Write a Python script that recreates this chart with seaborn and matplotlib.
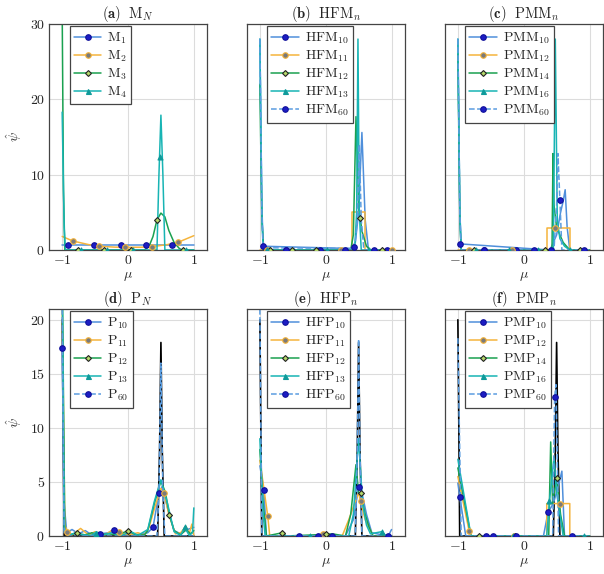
import seaborn as sns
import matplotlib.pyplot as plt
import matplotlib
from matplotlib.lines import Line2D

# ---- (a) M_N ----
a_M1_mu = [-1.0, 1.0]
a_M1_psi = [0.72, 0.72]
a_M1_mk_mu = [-0.91, -0.51, -0.11, 0.28, 0.67]
a_M1_mk_psi = [0.72, 0.72, 0.72, 0.72, 0.72]
a_M2_mu = [-1.0, -0.84, -0.6, -0.44, -0.2, 0.0, 0.2, 0.36, 0.6, 0.76, 1.0]
a_M2_psi = [1.8, 1.2, 0.72, 0.5, 0.38, 0.36, 0.37, 0.44, 0.72, 1.02, 1.9]
a_M2_mk_mu = [-0.84, -0.44, -0.04, 0.36, 0.76]
a_M2_mk_psi = [1.2, 0.5, 0.36, 0.44, 1.02]
a_M3_mu = [-1.0, -0.98, -0.96, 0.25, 0.32, 0.38, 0.44, 0.5, 0.56, 0.62, 0.7, 0.78, 0.82, 1.0]
a_M3_psi = [32, 8, 0, 0, 0.5, 1.8, 4.0, 4.9, 4.4, 2.6, 1.0, 0.2, 0, 0]
a_M3_mk_mu = [-0.76, -0.36, 0.04, 0.44, 0.84]
a_M3_mk_psi = [0, 0, 0, 4.0, 0]
a_M4_mu = [-1.0, -0.97, -0.95, 0.44, 0.47, 0.5, 0.53, 0.56, 1.0]
a_M4_psi = [18.3, 3, 0, 0, 10, 17.9, 10, 0, 0]
a_M4_mk_mu = [-0.72, -0.32, 0.08, 0.48, 0.88]
a_M4_mk_psi = [0, 0, 0, 12.4, 0]

# ---- (b) HFM_n ----
b_10_mu = [-1.0, -0.97, -0.95, 0.38, 0.45, 0.5, 0.55, 0.6, 0.65, 1.0]
b_10_psi = [28, 6, 0.5, 0.2, 1.0, 5.0, 15.6, 4.0, 0, 0]
b_10_mk_mu = [-0.95, -0.60, -0.09, 0.43, 0.93]
b_10_mk_psi = [0.5, 0, 0, 0.45, 0]
b_11_mu = [-1.0, 0.4, 0.4, 0.6, 0.6, 1.0]
b_11_psi = [0, 0, 5.05, 5.05, 0, 0]
b_11_mk_mu = [-0.89, 0.23, 1.0]
b_11_mk_psi = [0, 0, 0]
b_12_mu = [-1.0, -0.97, -0.94, 0.38, 0.42, 0.46, 0.5, 0.55, 0.62, 0.68, 1.0]
b_12_psi = [22, 4, 0, 0, 2, 17.7, 6, 2.5, 0.5, 0, 0]
b_12_mk_mu = [-0.85, -0.51, -0.15, 0.52, 0.86]
b_12_mk_psi = [0, 0, 0, 4.2, 0]
b_13_mu = [-1.0, -0.97, -0.95, 0.44, 0.47, 0.49, 0.51, 0.54, 1.0]
b_13_psi = [28, 5, 0, 0, 5, 28, 5, 0, 0]
b_13_mk_mu = [-0.89, 0.02, 0.66]
b_13_mk_psi = [0, 0, 0]
b_60_mu = [-1.0, -0.97, -0.95, 0.44, 0.48, 0.51, 0.54, 0.58, 1.0]
b_60_psi = [28, 5, 0.3, 0.2, 4, 14, 4, 0, 0]
b_60_mk_mu = [-0.60, 0.30, 0.73]
b_60_mk_psi = [0, 0, 0]

# ---- (c) PMM_n ----
c_10_mu = [-1.0, -0.97, -0.95, 0.4, 0.5, 0.56, 0.6, 0.63, 0.66, 0.7, 1.0]
c_10_psi = [28, 5, 0.8, 0, 2, 5, 6.5, 8, 3, 0, 0]
c_10_mk_mu = [-0.97, -0.60, -0.12, 0.41]
c_10_mk_psi = [0.8, 0, 0, 0]
c_12_mu = [-1.0, 0.35, 0.35, 0.7, 0.7, 1.0]
c_12_psi = [0, 0, 2.96, 2.96, 0, 0]
c_12_mk_mu = [-0.83, -0.18, 0.47]
c_12_mk_psi = [0, 0, 2.96]
c_14_mu = [-1.0, -0.97, -0.95, 0.43, 0.445, 0.46, 0.5, 0.6, 0.7, 1.0]
c_14_psi = [26, 4, 0, 0, 12.8, 6, 3, 1, 0, 0]
c_14_mk_mu = [-0.75, 0.33, 0.86]
c_14_mk_psi = [0, 0, 0]
c_16_mu = [-1.0, -0.97, -0.95, 0.45, 0.48, 0.51, 0.55, 0.62, 0.7, 1.0]
c_16_psi = [28, 5, 0, 0, 28, 4, 1.5, 0.5, 0, 0]
c_16_mk_mu = [-0.72, -0.23, 0.21, 0.70]
c_16_mk_psi = [0, 0, 0, 0]
c_60_mu = [-1.0, -0.97, -0.95, 0.46, 0.5, 0.52, 0.55, 0.58, 1.0]
c_60_psi = [28, 5, 0, 0, 6, 12.8, 6.6, 0, 0]
c_60_mk_mu = [-0.60, 0.16, 0.55, 0.92]
c_60_mk_psi = [0, 0, 6.6, 0]

# ---- exact solution (bottom row) ----
ref_mu = [-1.0, -0.97, 0.45, 0.48, 0.5, 0.52, 0.55, 1.0]
ref_psi = [20, 0, 0, 8, 17.9, 8, 0, 0]

# ---- (d) P_N ----
d_10_mu = [-1.0, -0.97, -0.93, -0.85, -0.75, -0.65, -0.55, -0.42, -0.3, -0.21, -0.1, 0.0,
           0.1, 0.2, 0.3, 0.38, 0.47, 0.52, 0.6, 0.7, 0.8, 0.9, 1.0]
d_10_psi = [17.4, 3.0, 0.3, 0.6, 0.2, 0.5, 0.1, 0.2, 0.3, 0.6, 0.2, 0.3,
            0.1, 0.2, 0.3, 0.8, 3.95, 4.6, 2.6, 0.5, 0.2, 0.6, 0.8]
d_10_mk_mu = [-1.0, -0.42, 0.47]
d_10_mk_psi = [17.4, 0.2, 3.95]
d_11_mu = [-1.0, -0.96, -0.92, -0.85, -0.72, -0.6, -0.5, -0.35, -0.25, -0.13, 0.0, 0.15,
           0.25, 0.32, 0.4, 0.5, 0.55, 0.62, 0.72, 0.8, 0.88, 0.93, 0.97, 1.0]
d_11_psi = [21.5, 1.0, 0.4, 0.1, 0.7, 0.1, 0.4, 0.1, 0.5, 0.4, 0.1, 0.3,
            0.1, 0.8, 2.5, 4.4, 3.95, 2.0, 0.2, 0.3, 0.9, 0.2, 1.1, 0.0]
d_11_mk_mu = [-0.92, -0.13, 0.55]
d_11_mk_psi = [0.4, 0.4, 3.95]
d_12_mu = [-1.0, -0.96, -0.9, -0.77, -0.65, -0.55, -0.45, -0.3, -0.15, 0.0, 0.12,
           0.25, 0.3, 0.4, 0.5, 0.57, 0.63, 0.7, 0.8, 0.88, 0.95, 1.0]
d_12_psi = [25, 0.5, 0.1, 0.26, 0.1, 0.3, 0.1, 0.2, 0.1, 0.5, 0.1,
            0.1, 0.5, 3.0, 5.1, 4.0, 1.9, 0.5, 0.1, 0.6, 0.2, 0.5]
d_12_mk_mu = [-0.77, 0.0, 0.63]
d_12_mk_psi = [0.26, 0.5, 1.9]
d_13_mu = [-1.0, -0.97, -0.9, -0.8, -0.7, -0.55, -0.48, -0.4, -0.25, -0.1, 0.05,
           0.15, 0.3, 0.4, 0.5, 0.6, 0.7, 0.8, 0.86, 0.93, 0.98, 1.0]
d_13_psi = [25, 0.5, 0.05, 0.3, 0.1, 0.05, 0.4, 0.05, 0.3, 0.05, 0.4,
            0.05, 0.6, 3.2, 5.2, 3.0, 0.4, 0.05, 0.8, 0.05, 0.3, 2.6]
d_13_mk_mu = [-0.48, 0.86]
d_13_mk_psi = [0.2, 0.8]
d_60_mu = [-1.0, -0.97, -0.9, 0.44, 0.47, 0.5, 0.53, 0.56, 1.0]
d_60_psi = [21, 0.3, 0, 0, 4, 16, 4, 0, 0]
d_60_mk_mu = [-0.21, 0.38]
d_60_mk_psi = [0.6, 0.8]

# ---- (e) HFP_n ----
e_10_mu = [-1.0, -0.94, -0.9, 0.3, 0.42, 0.5, 0.55, 0.62, 0.7, 0.95, 1.0]
e_10_psi = [6.5, 4.3, 0, 0, 1.5, 4.5, 4.0, 2.0, 0.3, 0, 0.6]
e_10_mk_mu = [-0.94, -0.41, 0.10, 0.95]
e_10_mk_psi = [4.3, 0, 0, 0]
e_11_mu = [-1.0, -0.88, -0.85, 0.25, 0.35, 0.45, 0.5, 0.53, 0.6, 0.72, 1.0]
e_11_psi = [7, 1.84, 0, 0, 1.5, 3.2, 4.0, 3.2, 1.5, 0, 0]
e_11_mk_mu = [-0.88, -0.04, 0.53]
e_11_mk_psi = [1.84, 0.15, 3.2]
e_12_mu = [-1.0, -0.95, -0.9, -0.66, -0.6, 0.0, 0.1, 0.3, 0.38, 0.46, 0.5, 0.53, 0.6, 0.66, 0.72, 1.0]
e_12_psi = [8, 3, 0, 0.3, 0, 0.15, 0.2, 0, 2, 6.6, 4, 4, 2, 0.8, 0, 0]
e_12_mk_mu = [-0.66, 0.01, 0.53]
e_12_mk_psi = [0.3, 0.15, 4.0]
e_13_mu = [-1.0, -0.95, -0.92, 0.35, 0.42, 0.5, 0.56, 0.62, 0.68, 0.85, 0.9, 1.0]
e_13_psi = [9, 2, 0, 0, 2, 9, 3, 1, 0.2, 0.4, 0.1, 0]
e_13_mk_mu = [-0.24, 0.85]
e_13_mk_psi = [0, 0.4]
e_60_mu = [-1.0, -0.97, 0.45, 0.48, 0.5, 0.52, 0.55, 1.0]
e_60_psi = [21, 0, 0, 8, 18.2, 8, 0, 0]
e_60_mk_mu = [-0.11, 0.5]
e_60_mk_psi = [0, 4.5]

# ---- (f) PMP_n ----
f_10_mu = [-1.0, -0.97, -0.88, 0.3, 0.37, 0.45, 0.52, 0.58, 0.62, 1.0]
f_10_psi = [4.9, 3.6, 0, 0, 2.2, 3, 4.5, 6, 0, 0]
f_10_mk_mu = [-0.97, -0.58, 0.37, 0.74]
f_10_mk_psi = [3.6, 0, 2.2, 0]
f_12_mu = [-1.0, -0.83, -0.8, 0.35, 0.35, 0.7, 0.7, 1.0]
f_12_psi = [5.5, 0.5, 0, 0, 3, 3, 0, 0]
f_12_mk_mu = [-0.83, -0.14, 0.55]
f_12_mk_psi = [0.5, 0, 3.0]
f_14_mu = [-1.0, -0.8, 0.38, 0.41, 0.44, 0.5, 0.56, 0.62, 1.0]
f_14_psi = [6.3, 0, 0, 8.7, 3, 5.4, 2, 0, 0]
f_14_mk_mu = [-0.68, -0.13, 0.5]
f_14_mk_psi = [0, 0, 5.4]
f_16_mu = [-1.0, -0.8, 0.35, 0.39, 0.46, 0.5, 0.55, 0.6, 1.0]
f_16_psi = [7.1, 0, 0, 3.2, 7.2, 4, 2, 0, 0]
f_16_mk_mu = [-0.16, 0.39, 0.92]
f_16_mk_psi = [0, 3.2, 0]
f_60_mu = [-1.0, -0.95, 0.44, 0.47, 0.49, 0.53, 1.0]
f_60_psi = [18.3, 0, 0, 12.9, 14, 0, 0]
f_60_mk_mu = [-0.47, -0.12, 0.47]
f_60_mk_psi = [0, 0, 12.9]

# styles: line colour, linestyle, marker, marker face, marker edge, marker size
STYLES = [
    ("#4f8fdb", "-", "o", "#1c1cc4", "#10109a", 4.0),
    ("#f5b43c", "-", "o", "#7a7a7a", "#f5b43c", 4.0),
    ("#1aa150", "-", "D", "#b5d86a", "#222222", 3.0),
    ("#18b4b4", "-", "^", "#0f9a9a", "#0f9a9a", 3.6),
    ("#5b9de0", "--", "o", "#1c1cc4", "#10109a", 4.0),
]

sns.set_theme(style="whitegrid")
plt.rcParams["font.family"] = "serif"
plt.rcParams["font.serif"] = ["cmr10"]
plt.rcParams["mathtext.fontset"] = "cm"
plt.rcParams["axes.formatter.use_mathtext"] = True
plt.rcParams["font.size"] = 10


def draw_panel(ax, title, labels, series, ylim, yticks, ref=None, show_y=False):
    if ref is not None:
        sns.lineplot(x=ref[0], y=ref[1], ax=ax, color="black", lw=1.2,
                     sort=False, estimator=None, legend=False)
    handles = []
    for i, (lab, s) in enumerate(zip(labels, series)):
        col, ls, mk, mfc, mec, ms = STYLES[i]
        sns.lineplot(x=s[0], y=s[1], ax=ax, color=col, lw=1.1, linestyle=ls,
                     sort=False, estimator=None, legend=False)
        handles.append(Line2D([], [], color=col, ls=ls, lw=1.1, marker=mk,
                              mfc=mfc, mec=mec, mew=0.8, ms=ms, label=lab))
    for i, s in enumerate(series):
        col, ls, mk, mfc, mec, ms = STYLES[i]
        sns.scatterplot(x=s[2], y=s[3], ax=ax, marker=mk, s=ms ** 2,
                        color=mfc, edgecolor=mec, linewidth=0.8, zorder=4,
                        legend=False)
    ax.set_xlim(-1.2, 1.2)
    ax.set_ylim(*ylim)
    ax.set_xticks([-1, 0, 1])
    ax.set_yticks(yticks)
    ax.grid(True, color="#dcdcdc", lw=0.8)
    for sp in ax.spines.values():
        sp.set_color("#444444")
        sp.set_linewidth(0.9)
    ax.tick_params(direction="in", length=3, color="#444444", labelsize=10,
                   pad=3, labelleft=show_y)
    ax.set_xlabel(r"$\mu$", fontsize=10, labelpad=2)
    if show_y:
        ax.set_ylabel(r"$\hat{\psi}$", fontsize=10, labelpad=4)
    else:
        ax.set_ylabel("")
    ax.set_title(title, fontsize=10.5, pad=4)
    leg = ax.legend(handles=handles, loc="upper left", bbox_to_anchor=(0.13, 0.99),
                    borderaxespad=0, fancybox=False, framealpha=1,
                    edgecolor="#444444", fontsize=10, handlelength=2.0,
                    handletextpad=0.4, labelspacing=0.2, borderpad=0.3)
    leg.get_frame().set_linewidth(0.9)


fig = plt.figure(figsize=(6.04, 5.74), dpi=100)
W, H = 604, 574
lefts = [49, 246.7, 444.7]
axw = 158
top_row = (250, 226)
bot_row = (536, 227)


def make_ax(left, row):
    bottom_px, h = row
    return fig.add_axes([left / W, (H - bottom_px) / H, axw / W, h / H])


ax = make_ax(lefts[0], top_row)
draw_panel(ax, r"$\mathbf{(a)}\ \ \mathrm{M}_N$",
           [r"$\mathrm{M}_1$", r"$\mathrm{M}_2$", r"$\mathrm{M}_3$", r"$\mathrm{M}_4$"],
           [(a_M1_mu, a_M1_psi, a_M1_mk_mu, a_M1_mk_psi),
            (a_M2_mu, a_M2_psi, a_M2_mk_mu, a_M2_mk_psi),
            (a_M3_mu, a_M3_psi, a_M3_mk_mu, a_M3_mk_psi),
            (a_M4_mu, a_M4_psi, a_M4_mk_mu, a_M4_mk_psi)],
           (0, 30), [0, 10, 20, 30], show_y=True)

ax = make_ax(lefts[1], top_row)
draw_panel(ax, r"$\mathbf{(b)}\ \ \mathrm{HFM}_n$",
           [r"$\mathrm{HFM}_{10}$", r"$\mathrm{HFM}_{11}$", r"$\mathrm{HFM}_{12}$",
            r"$\mathrm{HFM}_{13}$", r"$\mathrm{HFM}_{60}$"],
           [(b_10_mu, b_10_psi, b_10_mk_mu, b_10_mk_psi),
            (b_11_mu, b_11_psi, b_11_mk_mu, b_11_mk_psi),
            (b_12_mu, b_12_psi, b_12_mk_mu, b_12_mk_psi),
            (b_13_mu, b_13_psi, b_13_mk_mu, b_13_mk_psi),
            (b_60_mu, b_60_psi, b_60_mk_mu, b_60_mk_psi)],
           (0, 30), [0, 10, 20, 30])

ax = make_ax(lefts[2], top_row)
draw_panel(ax, r"$\mathbf{(c)}\ \ \mathrm{PMM}_n$",
           [r"$\mathrm{PMM}_{10}$", r"$\mathrm{PMM}_{12}$", r"$\mathrm{PMM}_{14}$",
            r"$\mathrm{PMM}_{16}$", r"$\mathrm{PMM}_{60}$"],
           [(c_10_mu, c_10_psi, c_10_mk_mu, c_10_mk_psi),
            (c_12_mu, c_12_psi, c_12_mk_mu, c_12_mk_psi),
            (c_14_mu, c_14_psi, c_14_mk_mu, c_14_mk_psi),
            (c_16_mu, c_16_psi, c_16_mk_mu, c_16_mk_psi),
            (c_60_mu, c_60_psi, c_60_mk_mu, c_60_mk_psi)],
           (0, 30), [0, 10, 20, 30])

ax = make_ax(lefts[0], bot_row)
draw_panel(ax, r"$\mathbf{(d)}\ \ \mathrm{P}_N$",
           [r"$\mathrm{P}_{10}$", r"$\mathrm{P}_{11}$", r"$\mathrm{P}_{12}$",
            r"$\mathrm{P}_{13}$", r"$\mathrm{P}_{60}$"],
           [(d_10_mu, d_10_psi, d_10_mk_mu, d_10_mk_psi),
            (d_11_mu, d_11_psi, d_11_mk_mu, d_11_mk_psi),
            (d_12_mu, d_12_psi, d_12_mk_mu, d_12_mk_psi),
            (d_13_mu, d_13_psi, d_13_mk_mu, d_13_mk_psi),
            (d_60_mu, d_60_psi, d_60_mk_mu, d_60_mk_psi)],
           (0, 21), [0, 5, 10, 15, 20], ref=(ref_mu, ref_psi), show_y=True)

ax = make_ax(lefts[1], bot_row)
draw_panel(ax, r"$\mathbf{(e)}\ \ \mathrm{HFP}_n$",
           [r"$\mathrm{HFP}_{10}$", r"$\mathrm{HFP}_{11}$", r"$\mathrm{HFP}_{12}$",
            r"$\mathrm{HFP}_{13}$", r"$\mathrm{HFP}_{60}$"],
           [(e_10_mu, e_10_psi, e_10_mk_mu, e_10_mk_psi),
            (e_11_mu, e_11_psi, e_11_mk_mu, e_11_mk_psi),
            (e_12_mu, e_12_psi, e_12_mk_mu, e_12_mk_psi),
            (e_13_mu, e_13_psi, e_13_mk_mu, e_13_mk_psi),
            (e_60_mu, e_60_psi, e_60_mk_mu, e_60_mk_psi)],
           (0, 21), [0, 5, 10, 15, 20], ref=(ref_mu, ref_psi))

ax = make_ax(lefts[2], bot_row)
draw_panel(ax, r"$\mathbf{(f)}\ \ \mathrm{PMP}_n$",
           [r"$\mathrm{PMP}_{10}$", r"$\mathrm{PMP}_{12}$", r"$\mathrm{PMP}_{14}$",
            r"$\mathrm{PMP}_{16}$", r"$\mathrm{PMP}_{60}$"],
           [(f_10_mu, f_10_psi, f_10_mk_mu, f_10_mk_psi),
            (f_12_mu, f_12_psi, f_12_mk_mu, f_12_mk_psi),
            (f_14_mu, f_14_psi, f_14_mk_mu, f_14_mk_psi),
            (f_16_mu, f_16_psi, f_16_mk_mu, f_16_mk_psi),
            (f_60_mu, f_60_psi, f_60_mk_mu, f_60_mk_psi)],
           (0, 21), [0, 5, 10, 15, 20], ref=(ref_mu, ref_psi))

fig.savefig("out.png", dpi=100)
